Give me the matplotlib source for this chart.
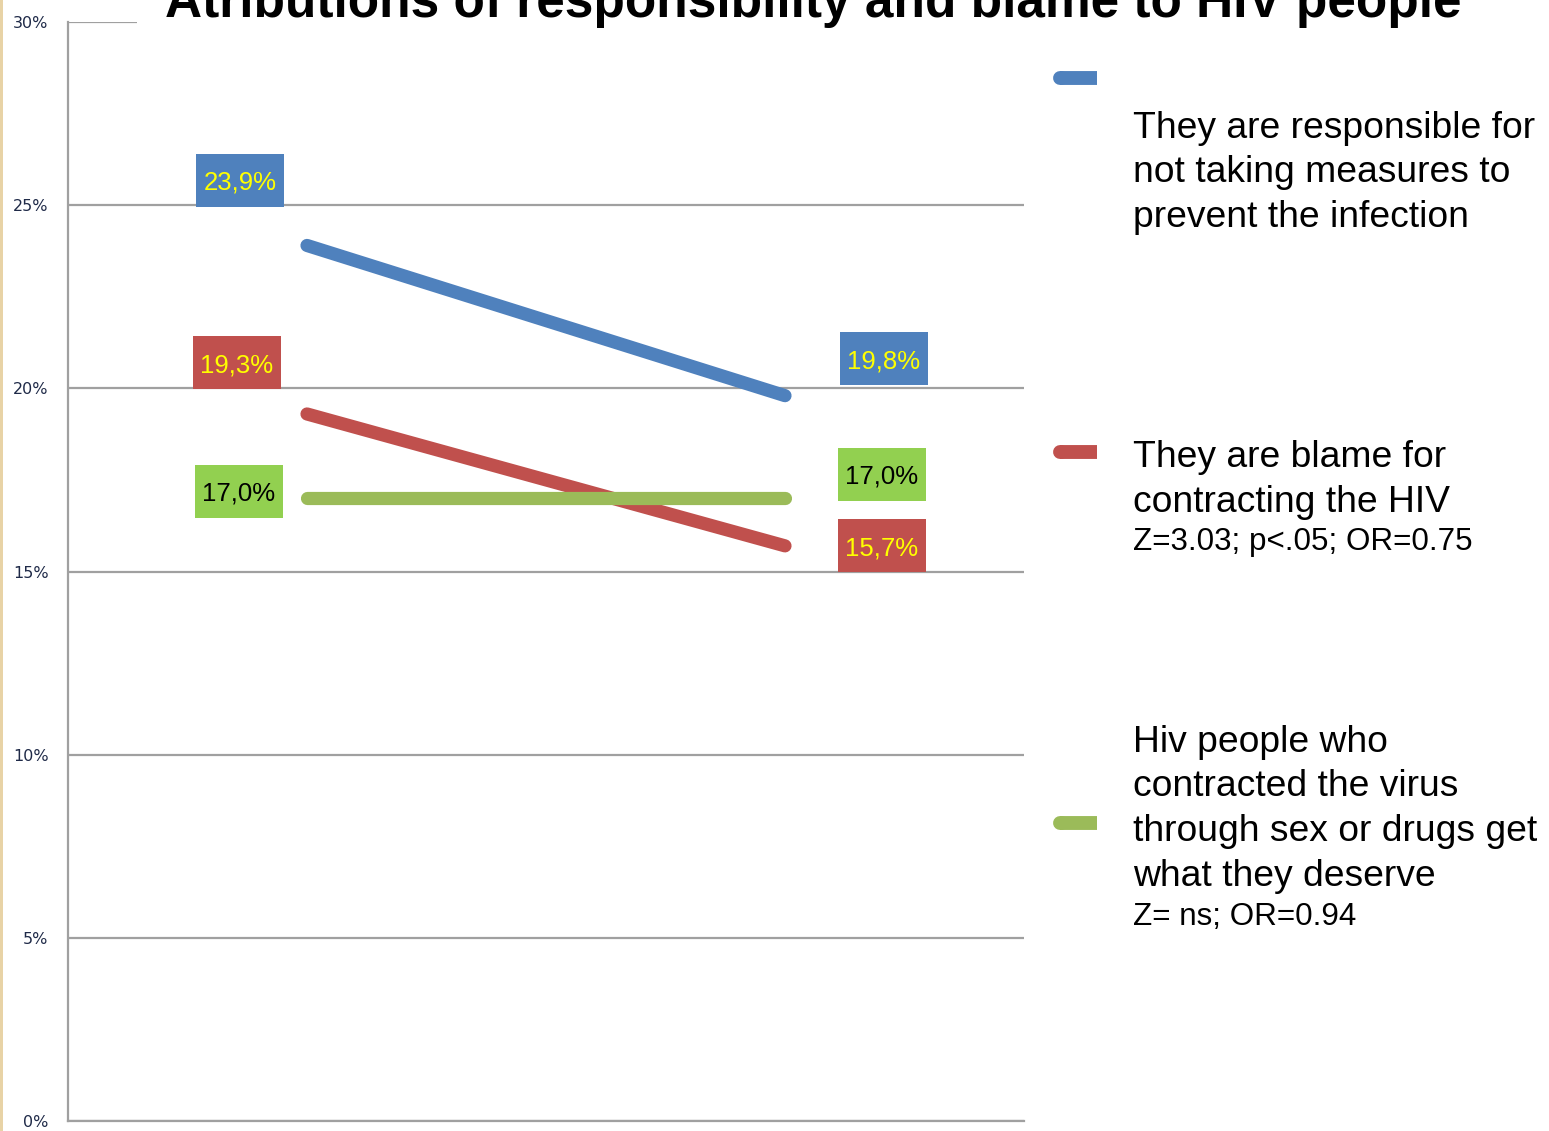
import matplotlib
matplotlib.use("Agg")
from matplotlib import pyplot as plt
from matplotlib.patches import Rectangle
from matplotlib.lines import Line2D
from matplotlib.transforms import offset_copy

# data
periods = [0, 1]
responsible = [23.9, 19.8]
blame = [19.3, 15.7]
deserve = [17.0, 17.0]
y_ticks = [0, 5, 10, 15, 20, 25, 30]

title = "Atributions of responsibility and blame to HIV people"
legend_main = [
    ["They are responsible for", "not taking measures to", "prevent the infection"],
    ["They are blame for", "contracting the HIV"],
    ["Hiv people who", "contracted the virus", "through sex or drugs get", "what they deserve"],
]
legend_stats = ["", "Z=3.03; p<.05; OR=0.75", "Z= ns; OR=0.94"]

line_colors = ["#4F81BD", "#C0504D", "#9BBB59"]
box_colors = ["#4F81BD", "#C0504D", "#92D050"]
text_colors = ["#FFFF00", "#FFFF00", "#000000"]

# label offsets in pixels from each point (left point, right point)
label_offsets = [[(-67, 65), (99, 37)],
                 [(-70, 51), (97, 0)],
                 [(-68, 7), (97, 24)]]

W, H = 1549, 1131
fig = plt.figure(figsize=(W / 100, H / 100), dpi=100)
fig.patch.set_facecolor("white")
ax = fig.add_axes([68 / W, 1 - 1121 / H, (1024 - 68) / W, (1121 - 22) / H])

ax.set_xlim(-0.5, 1.5)
ax.set_ylim(0, 30)
ax.set_yticks(y_ticks)
ax.set_yticklabels([f"{t}%" for t in y_ticks], fontsize=11.5,
                   family=["DejaVu Sans"], color="#1f2a48")
ax.set_xticks([])
ax.tick_params(axis="y", length=0, pad=14)
ax.grid(axis="y", color="#a0a0a0", linewidth=1.6)
ax.set_axisbelow(True)
for s in ["top", "right"]:
    ax.spines[s].set_visible(False)
for s in ["left", "bottom"]:
    ax.spines[s].set_color("#a0a0a0")
    ax.spines[s].set_linewidth(1.6)

series = [responsible, blame, deserve]
for vals, c in zip(series, line_colors):
    ax.plot(periods, vals, color=c, linewidth=9.5, solid_capstyle="round", zorder=3)

# data label boxes
bw, bh = 88, 53
xscale = ax.transData.transform((1, 0))[0] - ax.transData.transform((0, 0))[0]
yscale = ax.transData.transform((0, 1))[1] - ax.transData.transform((0, 0))[1]
for vals, bc, tc, offs in zip(series, box_colors, text_colors, label_offsets):
    for x, v, (dx, dy) in zip(periods, vals, offs):
        tr = offset_copy(ax.transData, fig=fig, x=dx, y=dy, units="dots")
        ax.add_patch(Rectangle((x - bw / 2 / xscale, v - bh / 2 / yscale),
                               bw / xscale, bh / yscale, transform=tr,
                               facecolor=bc, edgecolor="none", zorder=4,
                               clip_on=False))
        ax.text(x, v, f"{v:.1f}%".replace(".", ","), transform=tr,
                ha="center", va="center_baseline", fontsize=18.5,
                family="Liberation Sans",
                color=tc, zorder=5, clip_on=False)

# title with white background covering the top gridline
fig.patches.append(Rectangle((137 / W, 1 - 30 / H), 1, 30 / H,
                             transform=fig.transFigure, facecolor="white",
                             edgecolor="none", zorder=5))
fig.text(813 / W, 1 - 17 / H, title, ha="center", va="baseline",
         fontsize=37, fontweight="bold", family="Liberation Sans", zorder=6)

# left beige strip
fig.patches.append(Rectangle((0, 0), 3 / W, 1, transform=fig.transFigure,
                             facecolor="#e8d3a6", edgecolor="none", zorder=6))

# legend
marker_y = [78, 452, 823]
first_base = [138, 467, 752]
stats_base = [None, 550, 925]
for i in range(3):
    fig.lines.append(Line2D([1060 / W, 1097 / W], [1 - marker_y[i] / H] * 2,
                            transform=fig.transFigure, color=line_colors[i],
                            linewidth=10, solid_capstyle="butt"))
    fig.lines.append(Line2D([1060 / W, 1061 / W], [1 - marker_y[i] / H] * 2,
                            transform=fig.transFigure, color=line_colors[i],
                            linewidth=10, solid_capstyle="round"))
    for j, txt in enumerate(legend_main[i]):
        fig.text(1133 / W, 1 - (first_base[i] + 44.5 * j) / H, txt,
                 ha="left", va="baseline", fontsize=26.8,
                 family="Liberation Sans")
    if legend_stats[i]:
        fig.text(1133 / W, 1 - stats_base[i] / H, legend_stats[i],
                 ha="left", va="baseline", fontsize=22.6,
                 family="Liberation Sans")

fig.savefig("out.png", dpi=100)
